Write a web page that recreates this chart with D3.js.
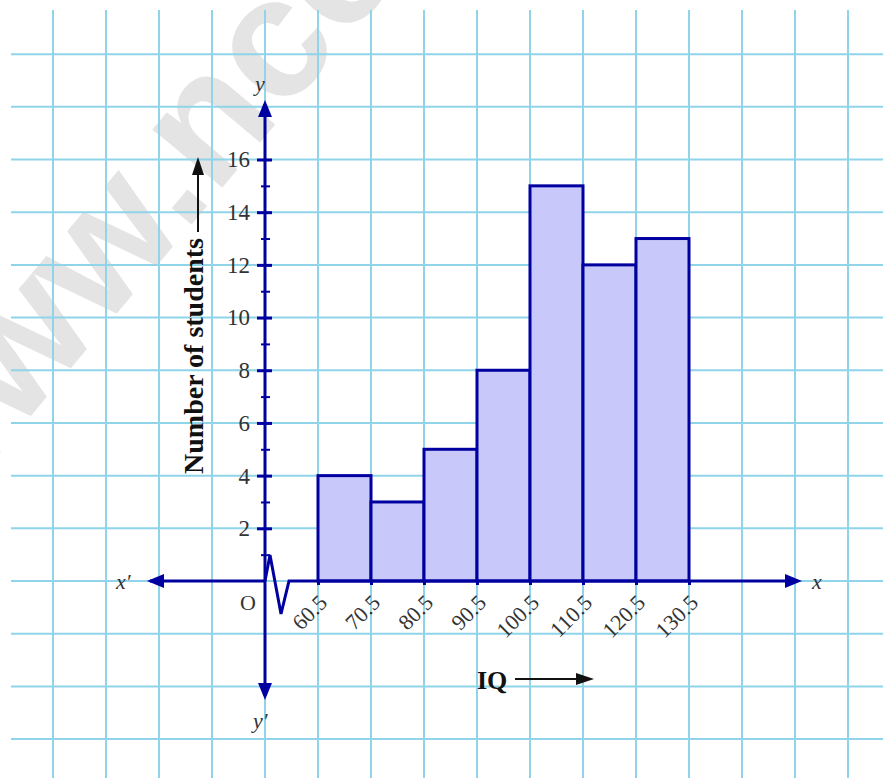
<!DOCTYPE html>
<html>
<head>
<meta charset="utf-8">
<script src="https://cdn.jsdelivr.net/npm/d3@7"></script>
<style>
  body { margin: 0; background: #fff; }
  svg { display: block; }
  .serif { font-family: "Liberation Serif", "Times New Roman", serif; }
</style>
</head>
<body>
<div id="chart"></div>
<script>
// IQ classes (class boundaries) and number of students
var classStarts = [60.5, 70.5, 80.5, 90.5, 100.5, 110.5, 120.5];
var classEnds = [70.5, 80.5, 90.5, 100.5, 110.5, 120.5, 130.5];
var students = [4, 3, 5, 8, 15, 12, 13];
var xTickValues = [60.5, 70.5, 80.5, 90.5, 100.5, 110.5, 120.5, 130.5];
var xTickLabels = ["60.5", "70.5", "80.5", "90.5", "100.5", "110.5", "120.5", "130.5"];
var yTickValues = [2, 4, 6, 8, 10, 12, 14, 16];
var yMinorTicks = [1, 3, 5, 7, 9, 11, 13, 15];

var width = 883, height = 778;
var axisColor = "#0000a0", gridColor = "#8fd4e8";

// the axis origin sits at 50.5 on x (the gap is shown with a kink)
var x = d3.scaleLinear().domain([50.5, 130.5]).range([265, 689]);
var y = d3.scaleLinear().domain([0, 16]).range([581, 159.5]);

var svg = d3.select("#chart").append("svg")
  .attr("width", width)
  .attr("height", height);

// watermark
svg.append("text")
  .attr("transform", "translate(-70,536) rotate(-50)")
  .style("font-family", "'Liberation Sans', Arial, sans-serif")
  .style("font-weight", "bold")
  .style("font-size", "172px")
  .style("fill", "#e4e4e4")
  .text("www.ncert.nic.in");

// graph paper grid
var gridX = d3.range(10.5, 171, 10).filter(function (v) { return x(v) < width; });
var gridY = d3.range(-6, 21, 2);

svg.append("g")
  .selectAll("line")
  .data(gridX)
  .enter()
  .append("line")
  .attr("x1", function (d) { return x(d); })
  .attr("x2", function (d) { return x(d); })
  .attr("y1", 10)
  .attr("y2", height)
  .style("stroke", gridColor)
  .style("stroke-width", 2);

svg.append("g")
  .selectAll("line")
  .data(gridY)
  .enter()
  .append("line")
  .attr("x1", 11)
  .attr("x2", width)
  .attr("y1", function (d) { return y(d); })
  .attr("y2", function (d) { return y(d); })
  .style("stroke", gridColor)
  .style("stroke-width", 2);

// histogram bars
svg.append("g")
  .selectAll("rect")
  .data(students)
  .enter()
  .append("rect")
  .attr("x", function (d, i) { return x(classStarts[i]); })
  .attr("y", function (d) { return y(d); })
  .attr("width", function (d, i) { return x(classEnds[i]) - x(classStarts[i]); })
  .attr("height", function (d) { return y(0) - y(d); })
  .style("fill", "#c8c8fa")
  .style("stroke", axisColor)
  .style("stroke-width", 3);

function arrowHead(g, tipX, tipY, dir, len, half, color) {
  var pts;
  if (dir == "up") pts = [[tipX, tipY], [tipX - half, tipY + len], [tipX + half, tipY + len]];
  if (dir == "down") pts = [[tipX, tipY], [tipX - half, tipY - len], [tipX + half, tipY - len]];
  if (dir == "left") pts = [[tipX, tipY], [tipX + len, tipY - half], [tipX + len, tipY + half]];
  if (dir == "right") pts = [[tipX, tipY], [tipX - len, tipY - half], [tipX - len, tipY + half]];
  g.append("polygon")
    .attr("points", pts.map(function (p) { return p.join(","); }).join(" "))
    .style("fill", color);
}

var x0 = x(50.5), y0 = y(0);
var axes = svg.append("g");

// x axis: left part, kink, right part
axes.append("line")
  .attr("x1", 150).attr("x2", x0)
  .attr("y1", y0).attr("y2", y0)
  .style("stroke", axisColor).style("stroke-width", 3);
axes.append("path")
  .attr("d", d3.line()([[x0, y0], [x0 + 5, y0 - 26], [x0 + 16, y0 + 33], [x0 + 24, y0], [x(130.5) + 100, y0]]))
  .style("fill", "none")
  .style("stroke", axisColor)
  .style("stroke-width", 3);
arrowHead(axes, 147, y0, "left", 17, 7, axisColor);
arrowHead(axes, 802, y0, "right", 17, 7, axisColor);

// y axis
axes.append("line")
  .attr("x1", x0).attr("x2", x0)
  .attr("y1", 104).attr("y2", 696)
  .style("stroke", axisColor).style("stroke-width", 3);
arrowHead(axes, x0, 100, "up", 17, 7, axisColor);
arrowHead(axes, x0, 700, "down", 17, 7, axisColor);

// y ticks (crossing the axis)
var yAxis = d3.axisLeft(y).tickValues(yTickValues).tickSize(8).tickPadding(7);
var yAxisG = svg.append("g")
  .attr("transform", "translate(" + x0 + ",0)")
  .call(yAxis);
yAxisG.select(".domain").remove();
yAxisG.selectAll(".tick line").style("stroke", axisColor).style("stroke-width", 3);
yAxisG.selectAll(".tick text")
  .attr("class", "serif")
  .style("font-size", "23px")
  .style("fill", "#333");

var yRight = svg.append("g")
  .attr("transform", "translate(" + x0 + ",0)")
  .call(d3.axisRight(y).tickValues(yTickValues).tickSize(7).tickFormat(""));
yRight.select(".domain").remove();
yRight.selectAll(".tick line").style("stroke", axisColor).style("stroke-width", 3);

var yMinor = svg.append("g")
  .attr("transform", "translate(" + (x0 - 4) + ",0)")
  .call(d3.axisRight(y).tickValues(yMinorTicks).tickSize(9).tickFormat(""));
yMinor.select(".domain").remove();
yMinor.selectAll(".tick line").style("stroke", axisColor).style("stroke-width", 2);

// x ticks with slanted labels
var xAxis = d3.axisBottom(x).tickValues(xTickValues).tickSize(4)
  .tickFormat(function (d, i) { return xTickLabels[i]; });
var xAxisG = svg.append("g")
  .attr("transform", "translate(0," + y0 + ")")
  .call(xAxis);
xAxisG.select(".domain").remove();
xAxisG.selectAll(".tick line").style("stroke", axisColor).style("stroke-width", 3);
xAxisG.selectAll(".tick text")
  .attr("class", "serif")
  .attr("x", 0).attr("y", 0).attr("dy", null)
  .attr("transform", "translate(10,23) rotate(-45)")
  .style("text-anchor", "end")
  .style("font-size", "22px")
  .style("fill", "#333");

// axis letters
function label(txt, px, py, italic) {
  svg.append("text")
    .attr("class", "serif")
    .attr("x", px).attr("y", py)
    .style("font-size", "22px")
    .style("font-style", italic ? "italic" : "normal")
    .style("fill", "#333")
    .text(txt);
}
label("x\u2032", 116, 589, true);
label("x", 812, 589, true);
label("y", 255, 91, true);
label("y\u2032", 253, 728, true);
label("O", 240, 610, false);

// axis titles with arrows
svg.append("text")
  .attr("class", "serif")
  .attr("transform", "translate(203,356) rotate(-90)")
  .style("text-anchor", "middle")
  .style("font-size", "28px")
  .style("font-weight", "bold")
  .style("fill", "#111")
  .text("Number of students");
svg.append("line")
  .attr("x1", 198).attr("x2", 198)
  .attr("y1", 232).attr("y2", 170)
  .style("stroke", "#111").style("stroke-width", 2);
arrowHead(svg, 198, 157, "up", 18, 6, "#111");

svg.append("text")
  .attr("class", "serif")
  .attr("x", 477).attr("y", 689)
  .style("font-size", "26px")
  .style("font-weight", "bold")
  .style("fill", "#111")
  .text("IQ");
svg.append("line")
  .attr("x1", 515).attr("x2", 580)
  .attr("y1", 679).attr("y2", 679)
  .style("stroke", "#111").style("stroke-width", 2);
arrowHead(svg, 594, 679, "right", 18, 6, "#111");
</script>
</body>
</html>
